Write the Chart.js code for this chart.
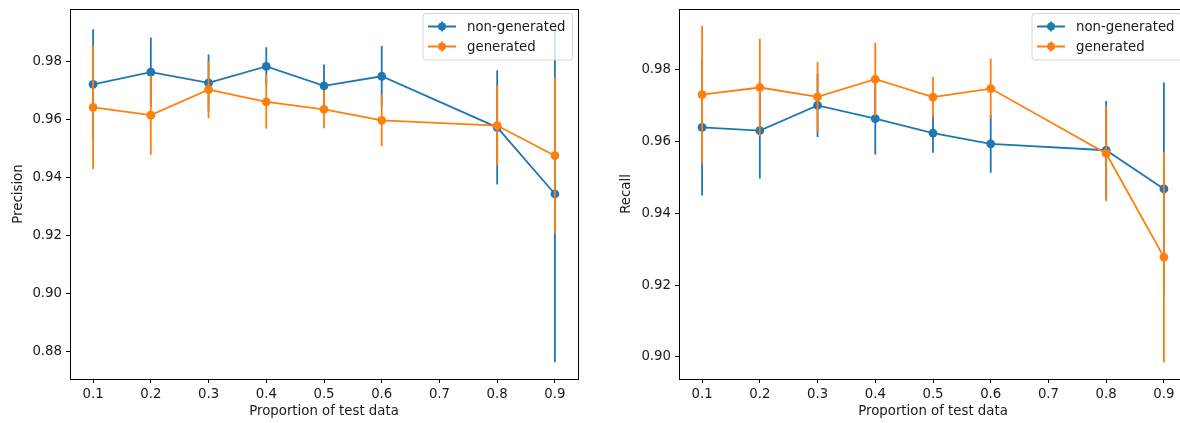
<!DOCTYPE html>
<html lang="en">
<head>
    <meta charset="UTF-8">
    <title>Precision / Recall vs proportion of test data</title>
    <script src="https://cdn.jsdelivr.net/npm/chart.js"></script>
    <style>
        html, body { margin: 0; padding: 0; background: #fff; }
        body { width: 1180px; height: 423px; overflow: hidden; position: relative; }
        canvas { position: absolute; top: 0; }
        #precChart { left: 0; }
        #recChart { left: 600px; }
    </style>
</head>
<body>
    <canvas id="precChart" width="590" height="423"></canvas>
    <canvas id="recChart" width="600" height="423"></canvas>

    <script>
        const proportions = [0.1, 0.2, 0.3, 0.4, 0.5, 0.6, 0.8, 0.9];
        const xTicks = [0.1, 0.2, 0.3, 0.4, 0.5, 0.6, 0.7, 0.8, 0.9];
        const precTicks = [0.88, 0.90, 0.92, 0.94, 0.96, 0.98];
        const recTicks = [0.90, 0.92, 0.94, 0.96, 0.98];
        const seriesNames = ["non-generated", "generated"];

        // precision (mean and error)
        const precNonGen = [0.9720, 0.9762, 0.9725, 0.9782, 0.9715, 0.9748, 0.9572, 0.9342];
        const precNonGenErr = [0.0190, 0.0120, 0.0098, 0.0066, 0.0074, 0.0104, 0.0197, 0.0580];
        const precGen = [0.9641, 0.9614, 0.9702, 0.9660, 0.9634, 0.9596, 0.9578, 0.9474];
        const precGenErr = [0.0213, 0.0137, 0.0099, 0.0093, 0.0065, 0.0089, 0.0139, 0.0270];

        // recall (mean and error)
        const recNonGen = [0.9640, 0.9631, 0.9701, 0.9664, 0.9624, 0.9594, 0.9576, 0.9468];
        const recNonGenErr = [0.0190, 0.0134, 0.0088, 0.0100, 0.0055, 0.0081, 0.0137, 0.0297];
        const recGen = [0.9731, 0.9751, 0.9725, 0.9774, 0.9724, 0.9748, 0.9567, 0.9278];
        const recGenErr = [0.0192, 0.0136, 0.0097, 0.0102, 0.0056, 0.0084, 0.0133, 0.0293];

        const BLUE = "#1f77b4";
        const ORANGE = "#ff7f0e";
        const FONT = { family: "'DejaVu Sans'", size: 13.3 };
        const TEXT = "#1a1a1a";
        const LINE_W = 1.8;

        Chart.defaults.font.family = FONT.family;

        // vertical error bars, drawn just before each line so the later series sits on top
        const errorBars = {
            id: "errorBars",
            beforeDatasetDraw(chart, args) {
                const ds = chart.data.datasets[args.index];
                if (!ds.errors) return;
                const { ctx, scales: { x, y } } = chart;
                ctx.save();
                ctx.strokeStyle = ds.borderColor;
                ctx.lineWidth = LINE_W;
                ctx.beginPath();
                ds.data.forEach((p, i) => {
                    const px = x.getPixelForValue(p.x);
                    ctx.moveTo(px, y.getPixelForValue(p.y - ds.errors[i]));
                    ctx.lineTo(px, y.getPixelForValue(p.y + ds.errors[i]));
                });
                ctx.stroke();
                ctx.restore();
            }
        };

        // box around the axes + matplotlib-like legend in the upper right
        const frameAndLegend = {
            id: "frameAndLegend",
            afterDraw(chart) {
                const { ctx, chartArea: a } = chart;
                ctx.save();
                ctx.strokeStyle = "#000";
                ctx.lineWidth = 1;
                ctx.strokeRect(Math.round(a.left) + 0.5, Math.round(a.top) + 0.5,
                    Math.round(a.right - a.left), Math.round(a.bottom - a.top));

                const sets = chart.data.datasets;
                ctx.font = FONT.size + "px " + FONT.family;
                const textW = Math.max(...sets.map(d => ctx.measureText(d.label).width));
                const handleLen = 28, rowH = 20;
                const w = 5 + handleLen + 11 + textW + 7;
                const h = 26 + rowH * (sets.length - 1) + 0.5;
                const bx = a.right - 5.5 - w, by = a.top + 4.5, r = 3;

                ctx.beginPath();
                ctx.moveTo(bx + r, by);
                ctx.lineTo(bx + w - r, by);
                ctx.arcTo(bx + w, by, bx + w, by + r, r);
                ctx.lineTo(bx + w, by + h - r);
                ctx.arcTo(bx + w, by + h, bx + w - r, by + h, r);
                ctx.lineTo(bx + r, by + h);
                ctx.arcTo(bx, by + h, bx, by + h - r, r);
                ctx.lineTo(bx, by + r);
                ctx.arcTo(bx, by, bx + r, by, r);
                ctx.closePath();
                ctx.fillStyle = "rgba(255,255,255,0.8)";
                ctx.fill();
                ctx.strokeStyle = "rgba(204,204,204,0.8)";
                ctx.stroke();

                sets.forEach((d, i) => {
                    const cy = by + 13 + i * rowH;
                    const hx = bx + 5;
                    ctx.strokeStyle = d.borderColor;
                    ctx.lineWidth = LINE_W;
                    ctx.beginPath();
                    ctx.moveTo(hx, cy);
                    ctx.lineTo(hx + handleLen, cy);
                    ctx.moveTo(hx + handleLen / 2, cy - 5);
                    ctx.lineTo(hx + handleLen / 2, cy + 5);
                    ctx.stroke();
                    ctx.fillStyle = d.borderColor;
                    ctx.beginPath();
                    ctx.arc(hx + handleLen / 2, cy, 4, 0, Math.PI * 2);
                    ctx.fill();
                    ctx.fillStyle = TEXT;
                    ctx.textBaseline = "middle";
                    ctx.textAlign = "left";
                    ctx.fillText(d.label, hx + handleLen + 11, cy + 1);
                });
                ctx.restore();
            }
        };

        function makeSeries(label, values, errors, color, order) {
            return {
                label: label,
                data: proportions.map((p, i) => ({ x: p, y: values[i] })),
                errors: errors,
                borderColor: color,
                backgroundColor: color,
                borderWidth: LINE_W,
                pointRadius: 4.4,
                pointHoverRadius: 4.4,
                pointBorderWidth: 0,
                tension: 0,
                order: order
            };
        }

        function makeChart(id, yLabel, datasets, yTicks, yAxisWidth, yTitlePad, rightPad) {
            // autoscale like matplotlib: data extent incl. error bars, plus 5% margin
            const lows = datasets.flatMap(d => d.data.map((p, i) => p.y - d.errors[i]));
            const highs = datasets.flatMap(d => d.data.map((p, i) => p.y + d.errors[i]));
            const lo = Math.min(...lows), hi = Math.max(...highs);
            const margin = (hi - lo) * 0.05;
            const xMargin = (proportions[proportions.length - 1] - proportions[0]) * 0.05;

            new Chart(document.getElementById(id), {
                type: "line",
                data: { datasets: datasets },
                options: {
                    responsive: false,
                    animation: false,
                    layout: { padding: { left: 0, top: 9, right: rightPad, bottom: 0 } },
                    plugins: { legend: { display: false }, tooltip: { enabled: false } },
                    scales: {
                        x: {
                            type: "linear",
                            min: proportions[0] - xMargin,
                            max: proportions[proportions.length - 1] + xMargin,
                            afterBuildTicks: s => { s.ticks = xTicks.map(v => ({ value: v })); },
                            afterFit: s => { s.height = 44; s.paddingLeft = 0; s.paddingRight = 0; },
                            ticks: {
                                callback: v => v.toFixed(1),
                                font: FONT, color: TEXT, padding: 4,
                                maxRotation: 0, autoSkip: false
                            },
                            grid: { display: true, drawOnChartArea: false, drawTicks: true, tickLength: 4, color: "#000" },
                            border: { display: false },
                            title: {
                                display: true, text: "Proportion of test data",
                                font: FONT, color: TEXT, padding: { top: 0, bottom: 3 }
                            }
                        },
                        y: {
                            type: "linear",
                            min: lo - margin,
                            max: hi + margin,
                            afterBuildTicks: s => { s.ticks = yTicks.map(v => ({ value: v })); },
                            afterFit: s => { s.width = yAxisWidth; s.paddingTop = 0; s.paddingBottom = 0; },
                            ticks: { callback: v => v.toFixed(2), font: FONT, color: TEXT, padding: 4, autoSkip: false },
                            grid: { display: true, drawOnChartArea: false, drawTicks: true, tickLength: 4, color: "#000" },
                            border: { display: false },
                            title: {
                                display: true, text: yLabel,
                                font: FONT, color: TEXT, padding: { top: yTitlePad, bottom: 0 }
                            }
                        }
                    }
                },
                plugins: [errorBars, frameAndLegend]
            });
        }

        makeChart("precChart", "Precision", [
            makeSeries(seriesNames[0], precNonGen, precNonGenErr, BLUE, 1),
            makeSeries(seriesNames[1], precGen, precGenErr, ORANGE, 0)
        ], precTicks, 70, 11, 12);

        makeChart("recChart", "Recall", [
            makeSeries(seriesNames[0], recNonGen, recNonGenErr, BLUE, 1),
            makeSeries(seriesNames[1], recGen, recGenErr, ORANGE, 0)
        ], recTicks, 79, 19, 13);
    </script>
</body>
</html>
